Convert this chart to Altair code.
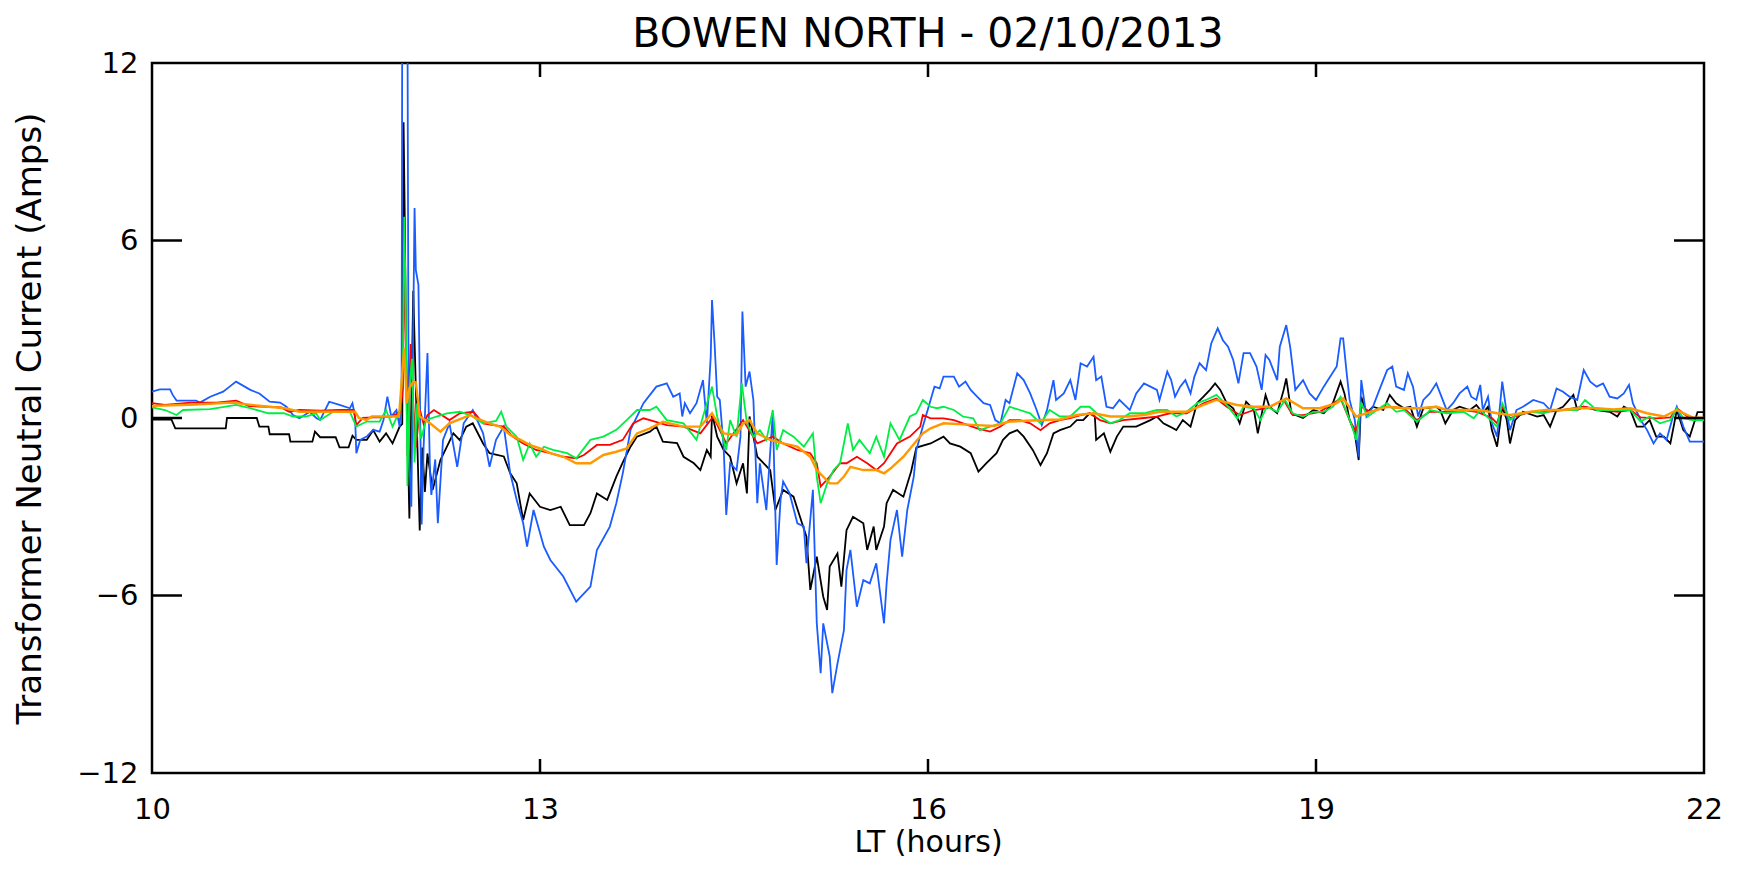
import altair as alt
import pandas as pd

# ---- data (time in LT hours, current in Amps) ----
black = [(10.0,-0.05),(10.15,-0.05),(10.18,-0.35),(10.57,-0.35),(10.58,0.0),(10.81,0.0),(10.83,-0.29),(10.90,-0.29),
 (10.91,-0.55),(11.06,-0.55),(11.07,-0.8),(11.24,-0.8),(11.26,-0.46),(11.30,-0.65),(11.42,-0.65),(11.45,-0.99),
 (11.52,-0.99),(11.55,-0.6),(11.58,-0.74),(11.66,-0.74),(11.71,-0.41),(11.76,-0.8),(11.81,-0.52),(11.86,-0.86),
 (11.915,-0.29),(11.935,-0.2),(11.945,10.0),(11.955,6.5),(11.965,2.0),(11.99,-3.4),(12.02,4.3),(12.04,1.0),
 (12.07,-3.8),(12.09,-1.0),(12.11,-2.5),(12.13,-1.2),(12.17,-2.43),(12.23,-1.42),(12.28,-0.97),(12.33,-0.52),
 (12.38,-0.75),(12.43,-0.29),(12.48,-0.18),(12.56,-0.86),(12.61,-1.19),(12.72,-1.3),(12.77,-1.87),(12.82,-2.21),
 (12.87,-3.45),(12.92,-2.55),(13.00,-3.0),(13.08,-3.11),(13.16,-3.0),(13.23,-3.62),(13.34,-3.62),(13.39,-3.22),
 (13.44,-2.55),(13.52,-2.77),(13.59,-1.98),(13.64,-1.5),(13.70,-0.97),(13.75,-0.63),(13.85,-0.46),(13.90,-0.29),
 (13.95,-0.8),(14.06,-0.85),(14.11,-1.31),(14.19,-1.53),(14.24,-1.76),(14.29,-1.08),(14.32,-1.31),(14.33,0.16),
 (14.37,-0.63),(14.42,-1.08),(14.47,-1.31),(14.52,-2.21),(14.57,-1.53),(14.60,-2.55),(14.62,0.05),(14.68,-1.31),
 (14.73,-1.53),(14.78,-1.76),(14.82,-3.11),(14.88,-2.43),(14.96,-2.66),(15.01,-3.34),(15.06,-4.01),(15.09,-5.81),
 (15.14,-4.69),(15.19,-6.04),(15.22,-6.49),(15.24,-5.02),(15.30,-4.58),(15.33,-5.7),(15.37,-3.79),(15.42,-3.34),
 (15.50,-3.56),(15.53,-4.46),(15.58,-3.67),(15.60,-4.46),(15.66,-3.67),(15.68,-2.88),(15.73,-2.43),(15.81,-2.66),
 (15.87,-1.8),(15.91,-1.0),(16.02,-0.86),(16.12,-0.63),(16.17,-0.86),(16.25,-0.97),(16.33,-1.19),(16.39,-1.81),
 (16.45,-1.53),(16.53,-1.19),(16.58,-0.74),(16.63,-0.52),(16.69,-0.41),(16.74,-0.63),(16.81,-1.08),(16.87,-1.59),
 (16.92,-1.19),(16.97,-0.52),(17.02,-0.41),(17.10,-0.29),(17.15,-0.07),(17.20,-0.07),(17.25,0.16),(17.29,0.05),
 (17.30,-0.74),(17.36,-0.52),(17.41,-1.14),(17.46,-0.63),(17.51,-0.29),(17.61,-0.29),(17.72,-0.07),(17.77,0.05),
 (17.82,-0.18),(17.87,-0.29),(17.92,-0.41),(17.97,-0.07),(18.03,-0.29),(18.08,0.5),(18.13,0.72),(18.18,0.95),
 (18.22,1.17),(18.26,0.95),(18.31,0.5),(18.36,0.33),(18.41,-0.18),(18.46,0.55),(18.52,0.27),(18.55,-0.52),
 (18.61,0.78),(18.64,0.38),(18.70,0.16),(18.75,0.95),(18.77,1.34),(18.81,0.16),(18.90,0.0),(18.98,0.27),
 (19.06,0.16),(19.13,0.5),(19.19,1.23),(19.22,0.83),(19.26,-0.07),(19.30,-0.52),(19.33,-1.42),(19.35,0.72),
 (19.39,0.16),(19.44,0.38),(19.52,0.27),(19.57,0.78),(19.62,0.5),(19.68,0.33),(19.73,0.38),(19.78,-0.29),
 (19.83,0.33),(19.93,0.38),(19.96,0.27),(20.00,-0.18),(20.06,0.27),(20.11,0.38),(20.19,0.27),(20.24,0.44),
 (20.29,0.16),(20.33,0.38),(20.36,-0.41),(20.40,-0.97),(20.44,0.38),(20.475,-0.07),(20.50,-0.86),(20.54,-0.07),
 (20.60,0.21),(20.71,0.05),(20.76,0.1),(20.81,-0.29),(20.86,0.27),(20.91,0.38),(20.99,0.78),(21.02,0.27),
 (21.07,0.38),(21.17,0.27),(21.27,0.21),(21.33,0.05),(21.38,0.38),(21.43,0.27),(21.48,-0.29),(21.53,-0.29),
 (21.58,-0.07),(21.63,-0.63),(21.69,-0.63),(21.74,-0.86),(21.79,0.27),(21.84,-0.41),(21.89,-0.63),(21.95,0.2),(22.0,0.2)]

blue = [(10.0,0.89),(10.06,0.97),(10.14,0.97),(10.16,0.78),(10.19,0.59),(10.34,0.59),(10.37,0.52),(10.45,0.72),
 (10.55,0.89),(10.60,1.06),(10.65,1.23),(10.76,0.95),(10.83,0.83),(10.91,0.55),(10.99,0.52),(11.04,0.38),
 (11.09,0.1),(11.14,-0.01),(11.22,0.21),(11.27,0.0),(11.30,-0.07),(11.37,0.55),(11.45,0.44),(11.53,0.33),
 (11.55,0.5),(11.57,0.05),(11.58,-1.19),(11.61,-0.74),(11.66,-0.63),(11.71,-0.4),(11.76,-0.46),(11.79,-0.07),
 (11.82,0.72),(11.85,0.05),(11.89,0.27),(11.915,-0.3),(11.93,1.0),(11.935,14.0),(11.975,14.0),(11.985,-1.0),
 (12.005,-3.0),(12.03,7.1),(12.04,5.0),(12.06,4.5),(12.085,-3.6),(12.10,-1.0),(12.13,2.2),(12.15,-1.9),
 (12.16,-2.6),(12.19,-1.4),(12.21,-3.56),(12.25,-0.74),(12.30,-0.18),(12.36,-1.65),(12.41,-0.18),(12.48,0.27),
 (12.56,-0.52),(12.61,-1.65),(12.66,-0.74),(12.72,-0.29),(12.77,-1.87),(12.82,-2.77),(12.87,-3.56),(12.90,-4.35),
 (12.95,-3.11),(13.03,-4.35),(13.08,-4.8),(13.18,-5.36),(13.28,-6.21),(13.39,-5.7),(13.44,-4.46),(13.54,-3.67),
 (13.59,-2.88),(13.64,-1.87),(13.70,-0.4),(13.80,0.5),(13.90,1.06),(13.98,1.17),(14.03,0.72),(14.08,0.83),
 (14.10,0.05),(14.12,0.5),(14.16,0.16),(14.21,0.5),(14.26,1.28),(14.29,-0.18),(14.32,2.07),(14.33,3.99),
 (14.35,2.5),(14.37,0.72),(14.39,0.61),(14.42,-0.97),(14.44,-3.28),(14.47,-1.53),(14.52,-1.76),(14.55,-0.63),
 (14.565,3.6),(14.59,1.06),(14.62,1.57),(14.65,0.61),(14.68,-2.88),(14.70,-1.53),(14.75,-3.11),(14.80,0.16),
 (14.83,-4.97),(14.86,-2.77),(14.88,-2.15),(14.93,-2.55),(14.99,-3.56),(15.04,-3.67),(15.06,-4.91),(15.11,-2.43),
 (15.14,-6.94),(15.17,-8.63),(15.19,-6.94),(15.24,-8.06),(15.26,-9.3),(15.30,-8.3),(15.35,-7.17),(15.37,-5.14),
 (15.40,-4.46),(15.45,-6.38),(15.50,-5.48),(15.55,-5.59),(15.60,-4.91),(15.66,-6.94),(15.68,-5.59),(15.71,-4.12),
 (15.76,-3.11),(15.80,-4.69),(15.84,-3.11),(15.89,-1.98),(15.91,-1.08),(15.96,-0.29),(16.02,0.61),(16.05,1.06),
 (16.09,1.0),(16.12,1.4),(16.20,1.4),(16.24,1.06),(16.29,1.23),(16.33,0.95),(16.38,0.72),(16.43,0.5),
 (16.48,0.44),(16.52,-0.07),(16.56,-0.18),(16.60,0.61),(16.63,0.5),(16.69,1.51),(16.74,1.28),(16.79,0.83),
 (16.84,0.27),(16.88,-0.24),(16.92,0.27),(16.97,1.28),(16.99,0.61),(17.05,0.83),(17.10,1.28),(17.14,0.61),
 (17.18,1.85),(17.23,1.74),(17.28,2.07),(17.30,1.28),(17.34,1.4),(17.38,0.38),(17.43,0.33),(17.48,0.61),
 (17.56,0.27),(17.61,0.83),(17.67,1.17),(17.72,1.06),(17.77,0.95),(17.79,0.61),(17.85,1.57),(17.88,1.28),
 (17.91,0.72),(17.95,1.06),(17.99,1.28),(18.03,0.83),(18.06,1.4),(18.10,1.85),(18.15,1.62),(18.19,2.52),
 (18.24,3.03),(18.28,2.63),(18.32,2.41),(18.36,1.96),(18.40,1.17),(18.44,2.19),(18.49,2.19),(18.54,1.74),
 (18.58,0.95),(18.61,2.13),(18.64,1.96),(18.70,1.28),(18.72,2.41),(18.77,3.14),(18.80,2.41),(18.84,0.95),
 (18.90,1.28),(18.95,0.83),(19.00,0.61),(19.06,1.06),(19.11,1.4),(19.16,1.74),(19.19,2.69),(19.21,2.69),
 (19.24,1.4),(19.26,0.61),(19.30,-0.07),(19.33,-1.31),(19.35,1.28),(19.39,0.05),(19.44,0.38),(19.49,0.95),
 (19.55,1.62),(19.59,1.74),(19.62,1.06),(19.68,0.95),(19.71,1.51),(19.75,1.06),(19.79,0.05),(19.83,0.61),
 (19.88,0.83),(19.93,1.17),(19.97,0.72),(20.01,0.27),(20.06,0.5),(20.11,0.83),(20.17,1.06),(20.20,0.72),
 (20.24,0.61),(20.27,1.12),(20.29,0.27),(20.33,0.72),(20.36,-0.18),(20.40,-0.63),(20.44,1.23),(20.475,0.16),
 (20.50,-0.41),(20.55,0.27),(20.60,0.38),(20.68,0.61),(20.76,0.5),(20.81,0.27),(20.86,1.0),(20.91,0.89),
 (20.96,0.72),(21.02,0.61),(21.07,1.62),(21.12,1.23),(21.17,1.06),(21.22,1.17),(21.27,0.72),(21.33,0.66),
 (21.38,0.83),(21.42,1.12),(21.45,0.5),(21.51,-0.07),(21.56,-0.41),(21.61,-0.86),(21.66,-0.52),(21.71,-0.74),
 (21.76,0.05),(21.79,0.38),(21.84,-0.29),(21.89,-0.8),(22.0,-0.8)]

red = [(10.0,0.5),(10.10,0.44),(10.30,0.52),(10.50,0.52),(10.65,0.59),(10.75,0.4),(10.90,0.38),(11.00,0.36),
 (11.06,0.21),(11.14,0.27),(11.30,0.25),(11.45,0.27),(11.56,0.27),(11.58,-0.24),(11.63,0.0),(11.71,0.02),
 (11.79,0.02),(11.86,0.07),(11.92,0.2),(11.94,1.0),(11.95,5.2),(11.96,3.5),(11.975,-1.3),(12.00,2.5),
 (12.02,0.5),(12.04,-1.0),(12.07,0.3),(12.10,-0.2),(12.13,0.1),(12.18,0.27),(12.30,-0.07),(12.38,0.16),
 (12.485,0.21),(12.56,-0.18),(12.64,-0.24),(12.72,-0.29),(12.79,-0.63),(12.87,-0.86),(12.97,-1.08),(13.08,-1.19),
 (13.18,-1.31),(13.28,-1.36),(13.34,-1.25),(13.44,-0.91),(13.54,-0.91),(13.64,-0.74),(13.72,-0.18),(13.80,-0.01),
 (13.85,-0.07),(13.98,-0.24),(14.11,-0.29),(14.24,-0.52),(14.34,0.05),(14.44,-0.86),(14.57,-0.07),(14.68,-0.86),
 (14.80,-0.63),(14.88,-0.86),(14.99,-1.08),(15.09,-1.19),(15.14,-1.53),(15.17,-2.32),(15.24,-1.98),(15.32,-1.53),
 (15.37,-1.53),(15.45,-1.31),(15.53,-1.53),(15.60,-1.76),(15.66,-1.53),(15.76,-0.86),(15.86,-0.63),(15.94,-0.29),
 (15.96,0.1),(16.02,-0.01),(16.12,-0.01),(16.20,-0.07),(16.27,-0.18),(16.38,-0.35),(16.48,-0.46),(16.56,-0.29),
 (16.63,-0.07),(16.71,-0.07),(16.79,-0.18),(16.87,-0.41),(16.94,-0.18),(17.02,-0.07),(17.10,0.0),(17.18,0.1),
 (17.25,0.16),(17.33,-0.07),(17.41,-0.18),(17.51,-0.07),(17.67,0.0),(17.77,0.05),(17.87,0.16),(18.00,0.16),
 (18.13,0.5),(18.23,0.66),(18.31,0.38),(18.41,0.1),(18.52,0.27),(18.62,0.33),(18.75,0.61),(18.82,0.1),
 (18.90,0.1),(19.03,0.21),(19.19,0.66),(19.26,-0.07),(19.31,-0.46),(19.35,0.38),(19.42,0.21),(19.55,0.38),
 (19.68,0.33),(19.78,-0.07),(19.88,0.21),(20.01,0.21),(20.14,0.27),(20.24,0.21),(20.36,0.0),(20.40,-0.18),
 (20.44,0.38),(20.50,0.0),(20.66,0.21),(20.78,0.21),(20.91,0.27),(21.07,0.38),(21.22,0.27),(21.33,0.21),
 (21.43,0.27),(21.51,0.02),(21.63,-0.01),(21.74,0.02),(21.79,0.33),(21.89,-0.01),(22.0,0.0)]

green = [(10.0,0.36),(10.10,0.27),(10.19,0.1),(10.24,0.27),(10.45,0.3),(10.65,0.44),(10.76,0.33),(10.90,0.16),
 (11.02,0.16),(11.09,0.05),(11.19,0.05),(11.27,0.16),(11.30,-0.07),(11.40,0.21),(11.53,0.21),(11.58,-0.29),
 (11.66,-0.12),(11.76,-0.12),(11.81,0.27),(11.86,-0.29),(11.92,0.3),(11.94,2.0),(11.95,6.8),(11.96,4.5),
 (11.975,-2.3),(11.99,1.0),(12.01,2.0),(12.03,-1.5),(12.05,0.5),(12.08,-0.7),(12.12,-0.07),(12.20,0.05),
 (12.28,0.16),(12.38,0.21),(12.46,0.1),(12.56,-0.18),(12.66,-0.1),(12.70,0.21),(12.74,-0.29),(12.82,-0.63),
 (12.87,-1.42),(12.92,-0.86),(12.97,-1.31),(13.03,-0.97),(13.10,-1.08),(13.21,-1.19),(13.28,-1.36),(13.39,-0.74),
 (13.49,-0.63),(13.59,-0.4),(13.67,-0.07),(13.75,0.27),(13.85,0.27),(13.90,0.38),(13.98,-0.07),(14.11,-0.18),
 (14.21,-0.74),(14.26,0.05),(14.33,1.06),(14.37,0.05),(14.44,-1.08),(14.47,-0.07),(14.52,-0.63),(14.56,1.17),
 (14.60,-0.18),(14.65,-0.63),(14.70,-0.41),(14.75,-0.74),(14.80,0.27),(14.83,-1.08),(14.88,-0.41),(14.96,-0.63),
 (15.04,-0.97),(15.11,-0.52),(15.14,-1.98),(15.17,-2.88),(15.22,-2.21),(15.27,-1.76),(15.32,-1.53),(15.38,-0.18),
 (15.42,-1.08),(15.47,-0.74),(15.55,-1.19),(15.60,-0.63),(15.66,-1.31),(15.71,-0.18),(15.78,-0.74),(15.86,0.05),
 (15.91,0.16),(15.96,0.61),(16.02,0.38),(16.07,0.33),(16.12,0.38),(16.20,0.27),(16.27,0.05),(16.35,-0.01),
 (16.40,-0.41),(16.48,-0.29),(16.56,-0.18),(16.63,0.38),(16.71,0.27),(16.79,0.16),(16.87,-0.18),(16.94,0.27),
 (17.02,0.05),(17.10,0.05),(17.18,0.38),(17.25,0.38),(17.33,0.05),(17.41,-0.18),(17.48,-0.07),(17.56,0.16),
 (17.67,0.16),(17.77,0.27),(17.85,0.27),(17.92,0.05),(18.00,0.21),(18.08,0.5),(18.15,0.61),(18.23,0.78),
 (18.31,0.44),(18.39,-0.01),(18.44,0.38),(18.52,0.33),(18.57,-0.07),(18.62,0.38),(18.70,0.21),(18.76,0.61),
 (18.82,0.16),(18.90,0.05),(18.98,0.21),(19.06,0.21),(19.13,0.38),(19.19,0.72),(19.24,0.16),(19.28,-0.29),
 (19.31,-0.74),(19.35,0.5),(19.40,0.05),(19.47,0.27),(19.55,0.5),(19.62,0.21),(19.68,0.27),(19.78,-0.12),
 (19.86,0.16),(19.88,0.27),(20.01,0.16),(20.14,0.21),(20.22,-0.01),(20.27,0.27),(20.35,-0.07),(20.40,-0.29),
 (20.44,0.5),(20.50,-0.07),(20.55,0.1),(20.66,0.21),(20.76,0.16),(20.84,0.27),(21.02,0.27),(21.08,0.61),
 (21.17,0.27),(21.38,0.27),(21.43,0.27),(21.51,-0.12),(21.58,0.05),(21.66,-0.18),(21.74,-0.07),(21.79,0.33),
 (21.84,-0.01),(21.91,-0.07),(22.0,-0.07)]

orange = [(10.0,0.41),(10.30,0.45),(10.62,0.52),(10.90,0.38),(11.03,0.33),(11.14,0.21),(11.53,0.21),(11.57,0.21),
 (11.60,0.0),(11.66,-0.07),(11.70,0.05),(11.91,0.05),(11.95,2.36),(11.97,0.5),(11.99,1.0),(12.02,1.23),
 (12.04,1.2),(12.07,0.05),(12.15,-0.18),(12.23,-0.46),(12.30,-0.18),(12.46,0.1),(12.51,-0.01),(12.61,-0.18),
 (12.69,-0.29),(12.77,-0.57),(12.85,-0.74),(12.92,-0.91),(13.00,-1.03),(13.08,-1.19),(13.18,-1.31),(13.28,-1.53),
 (13.39,-1.53),(13.49,-1.25),(13.59,-1.14),(13.67,-1.03),(13.75,-0.52),(13.85,-0.35),(13.95,-0.13),(14.11,-0.29),
 (14.24,-0.29),(14.33,0.16),(14.42,-0.52),(14.52,-0.57),(14.57,-0.18),(14.62,-0.07),(14.68,-0.52),(14.78,-0.74),
 (14.88,-0.86),(14.99,-0.97),(15.09,-1.31),(15.14,-1.76),(15.24,-2.21),(15.30,-2.21),(15.35,-1.98),(15.40,-1.65),
 (15.50,-1.76),(15.60,-1.76),(15.66,-1.87),(15.71,-1.71),(15.81,-1.31),(15.91,-0.78),(15.96,-0.52),(16.02,-0.35),
 (16.12,-0.18),(16.38,-0.24),(16.51,-0.27),(16.63,-0.12),(16.89,-0.07),(17.02,-0.05),(17.15,0.1),(17.28,0.16),
 (17.41,0.05),(17.54,0.05),(17.67,0.1),(17.79,0.21),(17.92,0.21),(18.00,0.21),(18.13,0.44),(18.23,0.61),
 (18.39,0.44),(18.52,0.38),(18.64,0.38),(18.77,0.66),(18.90,0.33),(19.03,0.33),(19.16,0.5),(19.21,0.66),
 (19.31,0.05),(19.42,0.21),(19.55,0.38),(19.68,0.33),(19.80,0.33),(19.93,0.38),(20.01,0.27),(20.14,0.27),
 (20.27,0.27),(20.40,0.16),(20.50,0.1),(20.66,0.21),(20.78,0.27),(20.91,0.27),(21.04,0.33),(21.17,0.33),
 (21.30,0.29),(21.43,0.33),(21.56,0.16),(21.69,0.05),(21.79,0.27),(21.91,0.02),(22.0,0.0)]

chart_title = "BOWEN NORTH - 02/10/2013"
x_label_values = [10, 13, 16, 19, 22]
y_label_values = [-12, -6, 0, 6, 12]
x_inner_ticks = [13, 16, 19]
y_inner_ticks = [-6, 0, 6]

W, H = 1552, 710
FONT = "DejaVu Sans"

xs = alt.Scale(domain=[10, 22], nice=False, zero=False)
ys = alt.Scale(domain=[-12, 12], nice=False, zero=False)

x_axis = alt.Axis(values=x_label_values, format="d", title="LT (hours)", domain=False, ticks=False,
                  grid=False, labelFontSize=29, titleFontSize=30, labelPadding=22,
                  labelFont=FONT, titleFont=FONT, titleFontWeight="normal", labelColor="black",
                  titleColor="black", labelFlush=False,
                  titleX=W / 2, titleY=69, titleAlign="center", titleBaseline="middle")
y_axis = alt.Axis(values=y_label_values, format="d", title="Transformer Neutral Current (Amps)",
                  domain=False, ticks=False, grid=False, labelFontSize=29, titleFontSize=34,
                  labelPadding=14, labelFont=FONT, titleFont=FONT,
                  titleFontWeight="normal", labelColor="black", titleColor="black", labelFlush=False,
                  titleX=-122, titleY=H / 2, titleAlign="center", titleBaseline="middle", titleAngle=270)

series = [
    (black, "#000000", 1.8),
    (blue, "#1a5cff", 1.8),
    (red, "#ff0000", 1.8),
    (green, "#00ee44", 1.8),
    (orange, "#ff9900", 2.4),
]

layers = []
for pts, col, w in series:
    df = pd.DataFrame(pts, columns=["t", "v"])
    layers.append(
        alt.Chart(df).mark_line(color=col, strokeWidth=w, clip=True).encode(
            x=alt.X("t:Q", scale=xs, axis=x_axis),
            y=alt.Y("v:Q", scale=ys, axis=y_axis),
        )
    )

xt = pd.DataFrame({"t": x_inner_ticks})
yt = pd.DataFrame({"v": y_inner_ticks})
tick_style = dict(color="black", strokeWidth=2.5)
layers.append(alt.Chart(xt).mark_rule(**tick_style).encode(
    x=alt.X("t:Q", scale=xs, axis=x_axis), y=alt.value(H), y2=alt.value(H - 14)))
layers.append(alt.Chart(xt).mark_rule(**tick_style).encode(
    x=alt.X("t:Q", scale=xs, axis=x_axis), y=alt.value(0), y2=alt.value(14)))
layers.append(alt.Chart(yt).mark_rule(**tick_style).encode(
    y=alt.Y("v:Q", scale=ys, axis=y_axis), x=alt.value(0), x2=alt.value(30)))
layers.append(alt.Chart(yt).mark_rule(**tick_style).encode(
    y=alt.Y("v:Q", scale=ys, axis=y_axis), x=alt.value(W - 30), x2=alt.value(W)))

title_df = pd.DataFrame({"label": [chart_title]})
layers.append(alt.Chart(title_df).mark_text(
    font=FONT, fontSize=41, color="black", align="center", baseline="alphabetic").encode(
    text="label:N", x=alt.value(W / 2), y=alt.value(-16)))

chart = alt.layer(*layers).properties(
    width=W, height=H,
    autosize=alt.AutoSizeParams(type="none"),
    padding={"left": 144, "top": 55, "right": 20, "bottom": 88},
    background="white",
).configure_view(stroke="black", strokeWidth=2.5)

chart.save("out.html", embed_options={"renderer": "svg", "actions": False})
